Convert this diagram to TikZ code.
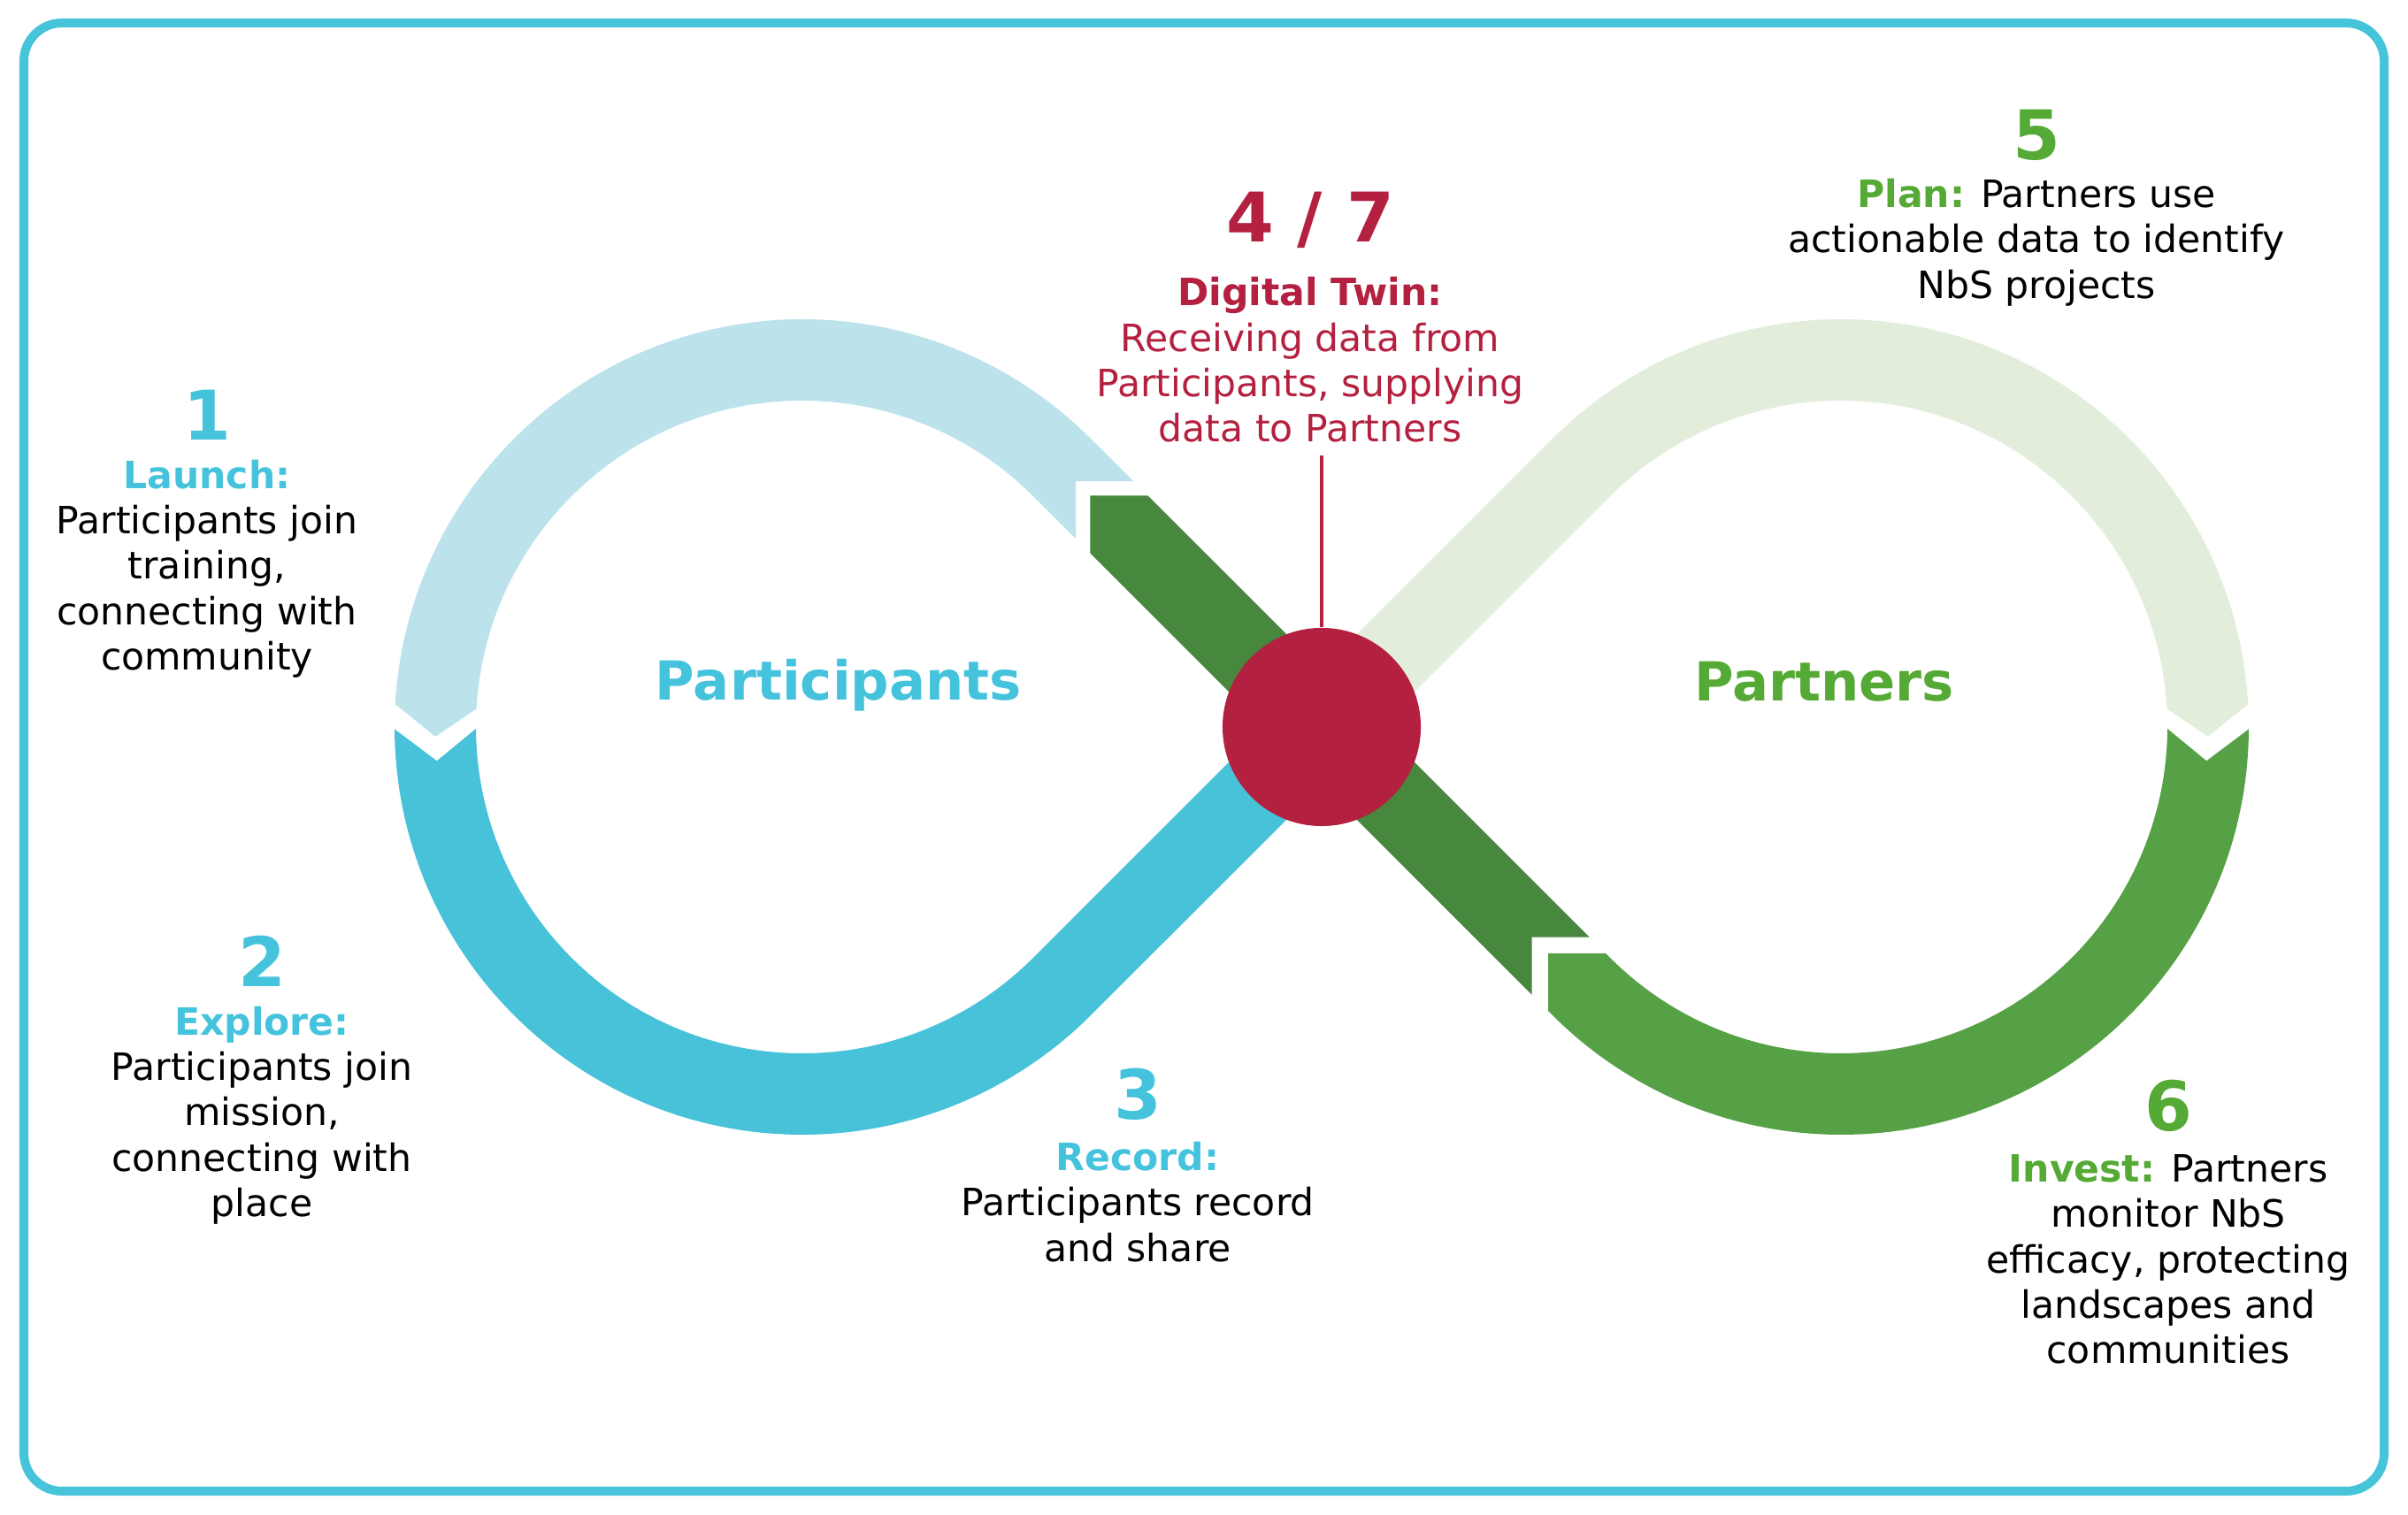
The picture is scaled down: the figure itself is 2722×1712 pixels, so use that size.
\documentclass[tikz,border=0pt]{standalone}
\usepackage{fontspec}
\setmainfont{DejaVu Sans}
\usepackage{tikz}
\usetikzlibrary{calc}
\definecolor{launchblue}{HTML}{BCE3EB}
\definecolor{recordblue}{HTML}{48C2D9}
\definecolor{planpale}{HTML}{E2EEDB}
\definecolor{investgreen}{HTML}{56A146}
\definecolor{returngreen}{HTML}{47883E}
\definecolor{twinred}{HTML}{B4203F}
\definecolor{framecyan}{HTML}{46C4DA}
\definecolor{textblue}{HTML}{45C3DC}
\definecolor{textgreen}{HTML}{55A935}

\begin{document}
\begin{tikzpicture}[x=0.01cm,y=0.01cm,
  body/.style={align=center,font=\fontsize{12.1}{14.6}\selectfont,inner sep=0pt},
  stepno/.style={anchor=base,font=\fontsize{22}{26}\selectfont\bfseries,inner sep=0pt},
  looplabel/.style={anchor=base,font=\fontsize{17.3}{20}\selectfont\bfseries,inner sep=0pt}]
\useasboundingbox (0,0) rectangle (2722,1712);
\coordinate (P) at (1494,890); \coordinate (CL) at (907,890); \coordinate (CR) at (2081,890);

\fill[launchblue] ($(P)+(135:347)+(45:46)$) -- ($(CL)+(45:461)$) arc[start angle=45,end angle=176.8,radius=461] -- ($(CL)+(181.5:415)$) -- ($(CL)+(176.8:369)$) arc[start angle=176.8,end angle=45,radius=369] -- ($(P)+(135:347)+(225:46)$) -- ($(P)+(135:393)$) -- cycle;
\fill[recordblue] ($(CL)+(180.3:461)$) arc[start angle=180.3,end angle=315,radius=461] -- ($(P)+(-45:46)$) -- ($(P)+(135:46)$) -- ($(CL)+(315:369)$) arc[start angle=315,end angle=180.3,radius=369] -- ($(CL)+(185.3:415)$) -- cycle;
\fill[planpale] ($(P)+(135:46)$) -- ($(CR)+(135:461)$) arc[start angle=135,end angle=3.2,radius=461] -- ($(CR)+(-1.5:415)$) -- ($(CR)+(3.2:369)$) arc[start angle=3.2,end angle=135,radius=369] -- ($(P)+(-45:46)$) -- cycle;
\fill[investgreen] ($(CR)+(-0.3:461)$) arc[start angle=-0.3,end angle=-135,radius=461] -- ($(P)+(-45:408)+(225:46)$) -- ($(P)+(-45:362)$) -- ($(P)+(-45:408)+(45:46)$) -- ($(CR)+(-135:369)$) arc[start angle=-135,end angle=-0.3,radius=369] -- ($(CR)+(-5.3:415)$) -- cycle;
\fill[returngreen] ($(P)+(-45:382)+(45:46)$) -- ($(P)+(-45:336)$) -- ($(P)+(-45:382)+(225:46)$) -- ($(P)+(135:324)+(225:46)$) -- ($(P)+(135:370)$) -- ($(P)+(135:324)+(45:46)$) -- cycle;

\node[circle,fill=twinred,minimum size=2.24cm,inner sep=0pt] (hub) at (P) {};

\node[stepno,textblue] (n1) at (234,1214) {1};
\node[body] (t1) at (234,1069) {{\bfseries\color{textblue}Launch:}\\Participants join\\training,\\connecting with\\community};
\node[stepno,textblue] (n2) at (296,596) {2};
\node[body] (t2) at (296,451) {{\bfseries\color{textblue}Explore:}\\Participants join\\mission,\\connecting with\\place};
\node[stepno,textblue] (n3) at (1286,446) {3};
\node[body] (t3) at (1286,353) {{\bfseries\color{textblue}Record:}\\Participants record\\and share};
\node[stepno,twinred] (n4) at (1481,1438) {4 / 7};
\node[body,twinred] (twin) at (1481,1305) {\textbf{Digital Twin:}\\Receiving data from\\Participants, supplying\\data to Partners};
\node[stepno,textgreen] (n5) at (2302,1531) {5};
\node[body] (t5) at (2302,1438) {{\bfseries\color{textgreen}Plan:} Partners use\\actionable data to identify\\NbS projects};
\node[stepno,textgreen] (n6) at (2451,433) {6};
\node[body] (t6) at (2451,288) {{\bfseries\color{textgreen}Invest:} Partners\\monitor NbS\\efficacy, protecting\\landscapes and\\communities};
\node[looplabel,textblue] (lp) at (948,920) {Participants};
\node[looplabel,textgreen] (lq) at (2062,919) {Partners};

\draw[twinred,line width=0.9pt,shorten >=4pt] (hub.north) -- (hub.north |- twin.south);
\draw[framecyan,line width=2.85pt,rounded corners=0.43cm] (27,26) rectangle (2695,1686);
\end{tikzpicture}
\end{document}
